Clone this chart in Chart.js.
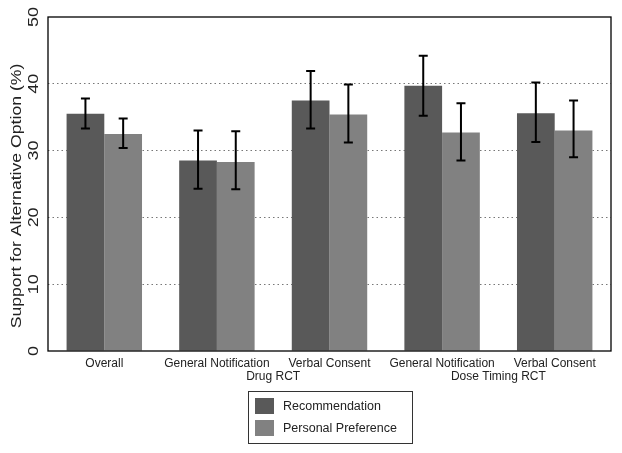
<!DOCTYPE html>
<html><head><meta charset="utf-8">
<script src="https://cdn.jsdelivr.net/npm/chart.js@4/dist/chart.umd.min.js"></script>
<style>html,body{margin:0;padding:0;background:#fff}#wrap{width:622px;height:453px}</style>
</head><body><div id="wrap"><canvas id="c" width="622" height="453"></canvas></div>
<script>
const categories = ["Overall", "General Notification", "Verbal Consent", "General Notification", "Verbal Consent"];
const groupLabels = [{text: "Drug RCT", from: 1, to: 2}, {text: "Dose Timing RCT", from: 3, to: 4}];
const recommendation = [35.5, 28.5, 37.5, 39.7, 35.6];
const recommendationLow = [33.3, 24.3, 33.3, 35.2, 31.3];
const recommendationHigh = [37.8, 33.0, 41.9, 44.2, 40.2];
const preference = [32.5, 28.3, 35.4, 32.7, 33.0];
const preferenceLow = [30.4, 24.2, 31.2, 28.5, 29.0];
const preferenceHigh = [34.8, 32.9, 39.9, 37.1, 37.5];
const yTicks = [0, 10, 20, 30, 40, 50];
const yTitle = "Support for Alternative Option (%)";

const FONT = "'Liberation Sans', Arial, sans-serif";

const custom = {
  id: 'custom',
  afterDatasetsDraw(chart) {
    const ctx = chart.ctx, y = chart.scales.y;
    const errs = [[recommendationLow, recommendationHigh], [preferenceLow, preferenceHigh]];
    ctx.save();
    ctx.strokeStyle = '#000'; ctx.lineWidth = 2;
    chart.data.datasets.forEach((ds, di) => {
      const meta = chart.getDatasetMeta(di);
      meta.data.forEach((bar, i) => {
        const yl = y.getPixelForValue(errs[di][0][i]);
        const yh = y.getPixelForValue(errs[di][1][i]);
        ctx.beginPath();
        ctx.moveTo(bar.x, yl); ctx.lineTo(bar.x, yh);
        ctx.moveTo(bar.x - 4.5, yl); ctx.lineTo(bar.x + 4.5, yl);
        ctx.moveTo(bar.x - 4.5, yh); ctx.lineTo(bar.x + 4.5, yh);
        ctx.stroke();
      });
    });
    ctx.restore();
  },
  afterDraw(chart) {
    const ctx = chart.ctx, y = chart.scales.y, x = chart.scales.x, a = chart.chartArea;
    ctx.save();
    ctx.strokeStyle = '#000'; ctx.lineWidth = 1.3;
    ctx.strokeRect(a.left, a.top, a.right - a.left, a.bottom - a.top);
    ctx.fillStyle = '#222';
    ctx.font = '14px ' + FONT;
    ctx.textAlign = 'center'; ctx.textBaseline = 'middle';
    yTicks.forEach(v => {
      const py = y.getPixelForValue(v);
      ctx.save(); ctx.translate(34, py); ctx.rotate(-Math.PI / 2); ctx.scale(1.28, 1);
      ctx.fillText(String(v), 0, 0); ctx.restore();
    });
    ctx.save(); ctx.translate(17, 196); ctx.rotate(-Math.PI / 2); ctx.scale(1.26, 1);
    ctx.fillText(yTitle, 0, 0); ctx.restore();
    ctx.font = '12px ' + FONT;
    groupLabels.forEach(g => {
      const px = (x.getPixelForValue(g.from) + x.getPixelForValue(g.to)) / 2;
      ctx.fillText(g.text, px, 377);
    });
    const lx = 248, ly = 391, lw = 164, lh = 52;
    ctx.strokeStyle = '#333'; ctx.lineWidth = 1;
    ctx.strokeRect(lx + 0.5, ly + 0.5, lw, lh);
    ctx.textAlign = 'left'; ctx.font = '12.5px ' + FONT;
    chart.data.datasets.forEach((ds, i) => {
      const sy = 398 + i * 22;
      ctx.fillStyle = ds.backgroundColor;
      ctx.fillRect(255, sy, 19, 16);
      ctx.fillStyle = '#222';
      ctx.fillText(ds.label, 283, sy + 8.5);
    });
    ctx.restore();
  }
};

new Chart(document.getElementById('c'), {
  type: 'bar',
  data: {
    labels: categories,
    datasets: [
      {label: 'Recommendation', data: recommendation, backgroundColor: '#595959', borderWidth: 0},
      {label: 'Personal Preference', data: preference, backgroundColor: '#818181', borderWidth: 0}
    ]
  },
  options: {
    responsive: false, animation: false, devicePixelRatio: 1,
    layout: {padding: {top: 17, right: 11, left: 0, bottom: 0}},
    categoryPercentage: 0.67, barPercentage: 1.0,
    plugins: {legend: {display: false}, tooltip: {enabled: false}},
    scales: {
      x: {
        grid: {display: false},
        border: {display: false},
        ticks: {color: '#222', font: {family: FONT, size: 12}, maxRotation: 0, autoSkip: false, padding: -3},
        afterFit(s) { s.height = 102; }
      },
      y: {
        min: 0, max: 50,
        ticks: {display: false, stepSize: 10},
        border: {display: false, dash: [1.5, 3]},
        grid: {
          drawTicks: false,
          color: c => (c.tick && (c.tick.value === 0 || c.tick.value === 50)) ? 'rgba(0,0,0,0)' : '#777',
          lineWidth: 1
        },
        afterFit(s) { s.width = 48; }
      }
    }
  },
  plugins: [custom]
});
</script>
</body></html>
